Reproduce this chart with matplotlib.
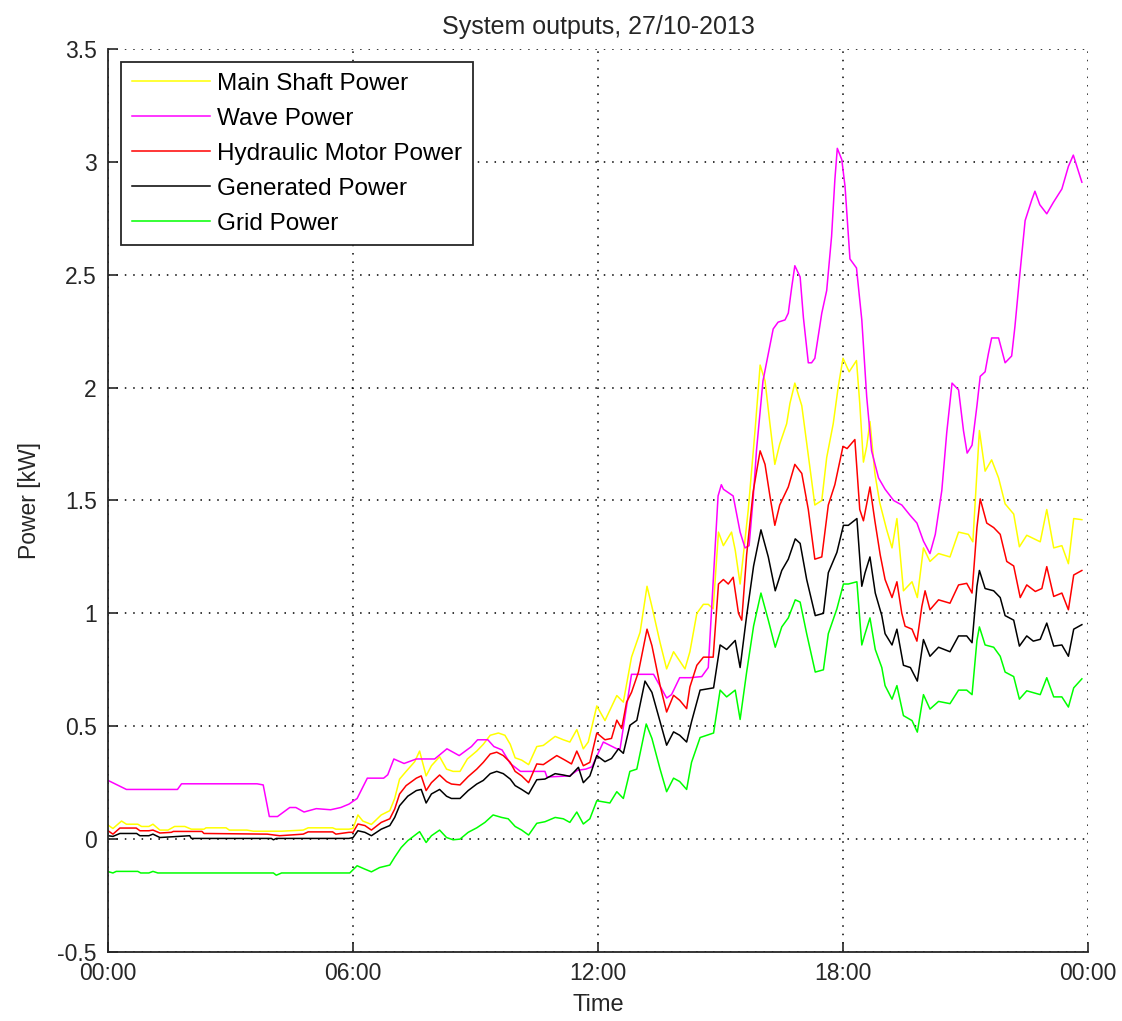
import numpy as np
import matplotlib.pyplot as plt

plt.rcParams['font.family'] = ['Liberation Sans', 'DejaVu Sans']

# time in hours, power in kW
t_shaft = [0, 0.12, 0.33, 0.45, 0.73, 0.82, 1.0, 1.1, 1.27, 1.47, 1.63, 1.88, 2.04, 2.35, 2.4, 2.89, 2.97, 3.4, 3.56, 4.25,
           4.78, 4.9, 5.5, 5.58, 5.9, 6.0, 6.12, 6.24, 6.45, 6.69, 6.9, 7.02, 7.14, 7.3, 7.51, 7.63, 7.79, 7.92, 8.12, 8.29,
           8.45, 8.62, 8.8, 9.03, 9.19, 9.36, 9.56, 9.72, 9.85, 9.97, 10.13, 10.3, 10.5, 10.66, 10.95, 11.15, 11.31, 11.48,
           11.64, 11.76, 11.97, 12.17, 12.46, 12.62, 12.82, 13.03, 13.2, 13.32, 13.52, 13.68, 13.85, 14.13, 14.25, 14.42,
           14.58, 14.7, 14.82, 14.95, 15.07, 15.27, 15.36, 15.48, 15.56, 15.68, 15.85, 15.97, 16.09, 16.21, 16.33, 16.45,
           16.62, 16.7, 16.82, 16.99, 17.15, 17.31, 17.48, 17.6, 17.76, 17.88, 18.0, 18.15, 18.33, 18.41, 18.5, 18.58,
           18.66, 18.78, 18.9, 19.07, 19.2, 19.32, 19.48, 19.69, 19.82, 19.97, 20.13, 20.34, 20.62, 20.83, 21.07, 21.18,
           21.34, 21.48, 21.64, 21.81, 21.97, 22.18, 22.32, 22.5, 22.83, 22.99, 23.16, 23.36, 23.52, 23.65, 23.85]
p_shaft = [0.062, 0.047, 0.08, 0.066, 0.066, 0.056, 0.056, 0.066, 0.04, 0.04, 0.056, 0.056, 0.044, 0.044, 0.05, 0.05, 0.04,
           0.04, 0.035, 0.035, 0.04, 0.05, 0.05, 0.044, 0.044, 0.047, 0.107, 0.08, 0.065, 0.107, 0.126, 0.18, 0.266, 0.30,
           0.343, 0.39, 0.28, 0.325, 0.365, 0.31, 0.30, 0.30, 0.355, 0.39, 0.42, 0.46, 0.47, 0.46, 0.42, 0.36, 0.35, 0.33,
           0.41, 0.415, 0.455, 0.44, 0.43, 0.485, 0.40, 0.43, 0.59, 0.525, 0.636, 0.607, 0.806, 0.916, 1.12, 1.03, 0.87,
           0.754, 0.83, 0.754, 0.83, 1.0, 1.04, 1.04, 1.02, 1.36, 1.30, 1.36, 1.28, 1.13, 1.26, 1.46, 1.82, 2.10, 2.03,
           1.84, 1.66, 1.75, 1.84, 1.93, 2.02, 1.92, 1.70, 1.48, 1.50, 1.69, 1.84, 2.0, 2.13, 2.07, 2.12, 1.93, 1.67, 1.74,
           1.85, 1.62, 1.49, 1.37, 1.29, 1.42, 1.10, 1.14, 1.07, 1.29, 1.23, 1.265, 1.25, 1.36, 1.35, 1.317, 1.81, 1.63,
           1.68, 1.60, 1.485, 1.44, 1.295, 1.346, 1.317, 1.46, 1.29, 1.30, 1.22, 1.42, 1.415]

t_wave = [0, 0.45, 1.7, 1.8, 3.65, 3.8, 3.95, 4.15, 4.45, 4.6, 4.8, 5.1, 5.45, 5.7, 5.9, 6.1, 6.35, 6.75, 6.85, 7.0, 7.25,
          7.55, 8.0, 8.3, 8.6, 8.9, 9.05, 9.3, 9.45, 9.65, 9.85, 10.1, 10.7, 10.75, 11.3, 11.5, 11.7, 11.85, 12.13, 12.46,
          12.54, 12.82, 13.36, 13.68, 13.8, 14.0, 14.25, 14.54, 14.7, 14.94, 15.02, 15.07, 15.23, 15.31, 15.48, 15.6, 15.7,
          15.8, 15.88, 16.04, 16.17, 16.29, 16.41, 16.58, 16.66, 16.74, 16.82, 16.95, 17.03, 17.15, 17.23, 17.31, 17.48,
          17.6, 17.72, 17.8, 17.86, 17.97, 18.05, 18.17, 18.33, 18.46, 18.58, 18.7, 18.87, 19.03, 19.24, 19.44, 19.64,
          19.81, 19.97, 20.13, 20.26, 20.42, 20.54, 20.67, 20.83, 20.95, 21.04, 21.16, 21.28, 21.36, 21.48, 21.56, 21.64,
          21.81, 21.97, 22.13, 22.21, 22.34, 22.46, 22.62, 22.7, 22.82, 22.99, 23.15, 23.36, 23.52, 23.64, 23.85]
p_wave = [0.26, 0.22, 0.22, 0.245, 0.245, 0.24, 0.10, 0.10, 0.14, 0.14, 0.12, 0.135, 0.13, 0.14, 0.155, 0.18, 0.27, 0.27,
          0.285, 0.355, 0.335, 0.355, 0.355, 0.40, 0.37, 0.41, 0.44, 0.44, 0.41, 0.395, 0.335, 0.30, 0.30, 0.275, 0.28,
          0.305, 0.31, 0.32, 0.43, 0.40, 0.40, 0.73, 0.73, 0.625, 0.64, 0.715, 0.715, 0.72, 0.76, 1.52, 1.57, 1.55, 1.53,
          1.52, 1.36, 1.29, 1.30, 1.51, 1.72, 2.03, 2.15, 2.26, 2.29, 2.30, 2.33, 2.44, 2.54, 2.49, 2.31, 2.11, 2.11, 2.13,
          2.33, 2.43, 2.67, 2.92, 3.06, 3.01, 2.89, 2.57, 2.53, 2.30, 1.96, 1.72, 1.60, 1.55, 1.50, 1.48, 1.435, 1.40,
          1.32, 1.265, 1.35, 1.545, 1.80, 2.02, 1.99, 1.81, 1.71, 1.745, 1.92, 2.05, 2.07, 2.15, 2.22, 2.22, 2.11, 2.14,
          2.27, 2.52, 2.74, 2.83, 2.87, 2.81, 2.77, 2.82, 2.88, 2.98, 3.03, 2.91]

t_hyd = [0, 0.12, 0.29, 0.69, 0.78, 1.0, 1.1, 1.27, 1.55, 1.6, 2.3, 2.35, 3.9, 4.2, 4.78, 4.9, 5.5, 5.58, 5.9, 6.0, 6.12,
         6.29, 6.45, 6.69, 6.9, 7.02, 7.14, 7.3, 7.55, 7.67, 7.79, 7.92, 8.12, 8.29, 8.41, 8.62, 8.82, 9.03, 9.19, 9.36,
         9.52, 9.68, 9.85, 9.97, 10.13, 10.3, 10.5, 10.66, 10.99, 11.19, 11.35, 11.48, 11.64, 11.8, 11.97, 12.17, 12.33,
         12.46, 12.58, 12.7, 12.82, 12.99, 13.2, 13.32, 13.52, 13.68, 13.85, 14.0, 14.17, 14.25, 14.42, 14.58, 14.82,
         14.95, 15.07, 15.19, 15.31, 15.44, 15.52, 15.64, 15.8, 15.97, 16.09, 16.21, 16.33, 16.45, 16.66, 16.82, 16.99,
         17.15, 17.31, 17.48, 17.64, 17.8, 18.0, 18.1, 18.29, 18.41, 18.5, 18.66, 18.78, 18.91, 19.03, 19.2, 19.32,
         19.44, 19.52, 19.69, 19.81, 19.93, 20.01, 20.13, 20.34, 20.62, 20.83, 21.03, 21.16, 21.28, 21.36, 21.52, 21.69,
         21.85, 22.01, 22.18, 22.34, 22.5, 22.71, 22.87, 22.99, 23.16, 23.36, 23.52, 23.65, 23.85]
p_hyd = [0.037, 0.022, 0.049, 0.049, 0.037, 0.037, 0.04, 0.027, 0.03, 0.034, 0.034, 0.025, 0.022, 0.015, 0.022, 0.032,
         0.032, 0.022, 0.03, 0.03, 0.067, 0.06, 0.04, 0.074, 0.09, 0.133, 0.20, 0.237, 0.27, 0.28, 0.215, 0.25, 0.284,
         0.255, 0.244, 0.24, 0.277, 0.31, 0.34, 0.377, 0.385, 0.37, 0.34, 0.30, 0.28, 0.25, 0.333, 0.33, 0.37, 0.35,
         0.333, 0.39, 0.325, 0.34, 0.47, 0.44, 0.446, 0.527, 0.49, 0.607, 0.65, 0.74, 0.93, 0.857, 0.68, 0.563, 0.637,
         0.615, 0.578, 0.674, 0.77, 0.806, 0.806, 1.13, 1.15, 1.13, 1.16, 1.00, 0.97, 1.26, 1.54, 1.72, 1.66, 1.52, 1.39,
         1.48, 1.56, 1.66, 1.62, 1.46, 1.24, 1.25, 1.48, 1.57, 1.74, 1.73, 1.77, 1.46, 1.41, 1.56, 1.41, 1.26, 1.15, 1.07,
         1.14, 1.0, 0.943, 0.93, 0.877, 1.03, 1.10, 1.016, 1.06, 1.045, 1.126, 1.133, 1.09, 1.38, 1.507, 1.40, 1.38, 1.35,
         1.23, 1.21, 1.07, 1.126, 1.097, 1.11, 1.207, 1.075, 1.09, 1.016, 1.17, 1.19]

t_gen = [0, 0.12, 0.29, 0.7, 0.78, 1.0, 1.1, 1.27, 2.0, 2.04, 4.0, 4.05, 4.12, 5.9, 6.0, 6.12, 6.29, 6.45, 6.69, 6.9, 7.02,
         7.14, 7.34, 7.55, 7.67, 7.79, 7.92, 8.12, 8.29, 8.41, 8.62, 8.82, 9.03, 9.19, 9.36, 9.52, 9.68, 9.85, 9.97, 10.13,
         10.3, 10.5, 10.7, 10.95, 11.15, 11.31, 11.52, 11.64, 11.8, 11.97, 12.17, 12.33, 12.5, 12.62, 12.78, 12.95, 13.15,
         13.32, 13.52, 13.68, 13.85, 14.0, 14.17, 14.29, 14.5, 14.83, 14.99, 15.15, 15.36, 15.48, 15.64, 15.81, 15.99,
         16.17, 16.34, 16.5, 16.66, 16.83, 16.95, 17.11, 17.32, 17.52, 17.64, 17.85, 18.01, 18.13, 18.34, 18.46, 18.54,
         18.66, 18.79, 18.95, 19.03, 19.2, 19.32, 19.48, 19.65, 19.82, 19.97, 20.13, 20.34, 20.62, 20.83, 21.03, 21.16,
         21.28, 21.34, 21.48, 21.69, 21.85, 21.97, 22.18, 22.32, 22.5, 22.66, 22.83, 22.99, 23.16, 23.36, 23.52, 23.65,
         23.85]
p_gen = [0.015, 0.012, 0.025, 0.025, 0.015, 0.015, 0.022, 0.007, 0.015, 0.003, 0.003, -0.003, 0.003, 0.003, 0.007, 0.037,
         0.03, 0.015, 0.044, 0.06, 0.096, 0.148, 0.19, 0.215, 0.22, 0.16, 0.20, 0.22, 0.19, 0.18, 0.18, 0.215, 0.244,
         0.26, 0.29, 0.30, 0.29, 0.266, 0.237, 0.22, 0.20, 0.263, 0.266, 0.29, 0.284, 0.278, 0.318, 0.25, 0.28, 0.37,
         0.343, 0.357, 0.40, 0.38, 0.504, 0.526, 0.70, 0.65, 0.52, 0.416, 0.475, 0.46, 0.43, 0.52, 0.66, 0.67, 0.86, 0.84,
         0.88, 0.76, 0.99, 1.21, 1.37, 1.25, 1.10, 1.19, 1.24, 1.33, 1.31, 1.15, 0.99, 1.0, 1.18, 1.27, 1.39, 1.39, 1.42,
         1.12, 1.18, 1.25, 1.09, 0.99, 0.91, 0.86, 0.93, 0.77, 0.76, 0.70, 0.884, 0.81, 0.85, 0.83, 0.90, 0.90, 0.87,
         1.12, 1.19, 1.11, 1.10, 1.07, 0.99, 0.97, 0.855, 0.90, 0.877, 0.885, 0.957, 0.855, 0.86, 0.81, 0.93, 0.95]

t_grid = [0, 0.12, 0.2, 0.73, 0.8, 1.0, 1.1, 1.22, 4.05, 4.12, 4.25, 5.92, 6.1, 6.29, 6.45, 6.65, 6.9, 7.02, 7.18, 7.34,
          7.63, 7.79, 7.92, 8.12, 8.29, 8.45, 8.62, 8.82, 9.03, 9.23, 9.43, 9.64, 9.8, 9.97, 10.13, 10.3, 10.5, 10.7,
          10.95, 11.15, 11.31, 11.48, 11.64, 11.8, 11.97, 12.29, 12.46, 12.62, 12.78, 12.95, 13.18, 13.32, 13.52, 13.68,
          13.85, 14.0, 14.17, 14.29, 14.5, 14.83, 14.99, 15.15, 15.36, 15.48, 15.64, 15.81, 15.99, 16.17, 16.34, 16.5,
          16.66, 16.83, 16.95, 17.11, 17.32, 17.52, 17.64, 17.85, 18.01, 18.13, 18.34, 18.46, 18.54, 18.66, 18.79, 18.95,
          19.03, 19.2, 19.32, 19.48, 19.69, 19.82, 19.97, 20.13, 20.34, 20.62, 20.83, 21.03, 21.16, 21.28, 21.34, 21.48,
          21.69, 21.85, 21.97, 22.18, 22.32, 22.5, 22.83, 22.99, 23.16, 23.36, 23.52, 23.65, 23.85]
p_grid = [-0.144, -0.15, -0.143, -0.143, -0.15, -0.15, -0.143, -0.15, -0.15, -0.16, -0.15, -0.15, -0.118, -0.133, -0.145,
          -0.126, -0.115, -0.08, -0.037, -0.007, 0.033, -0.015, 0.015, 0.04, 0.007, -0.003, 0.0, 0.03, 0.05, 0.074, 0.107,
          0.096, 0.09, 0.056, 0.04, 0.018, 0.07, 0.077, 0.096, 0.09, 0.074, 0.12, 0.067, 0.09, 0.17, 0.16, 0.21, 0.18,
          0.30, 0.31, 0.51, 0.446, 0.31, 0.21, 0.27, 0.255, 0.22, 0.34, 0.45, 0.47, 0.66, 0.63, 0.66, 0.53, 0.74, 0.944,
          1.09, 0.97, 0.85, 0.94, 0.98, 1.06, 1.05, 0.91, 0.74, 0.75, 0.91, 1.02, 1.13, 1.13, 1.14, 0.86, 0.91, 0.98, 0.84,
          0.76, 0.68, 0.62, 0.68, 0.547, 0.525, 0.474, 0.64, 0.576, 0.61, 0.60, 0.66, 0.66, 0.64, 0.88, 0.94, 0.86, 0.85,
          0.81, 0.74, 0.72, 0.62, 0.657, 0.64, 0.715, 0.63, 0.63, 0.585, 0.67, 0.71]

x_ticks = [0, 6, 12, 18, 24]
x_labels = ['00:00', '06:00', '12:00', '18:00', '00:00']
y_ticks = [-0.5, 0, 0.5, 1, 1.5, 2, 2.5, 3, 3.5]
y_labels = ['-0.5', '0', '0.5', '1', '1.5', '2', '2.5', '3', '3.5']

fig = plt.figure(figsize=(11.22, 10.21), dpi=100)
ax = fig.add_axes([0.0963, 0.0676, 0.8734, 0.8844])

ax.plot(t_shaft, p_shaft, color='#ffff00', lw=1.1, label='Main Shaft Power')
ax.plot(t_wave, p_wave, color='#ff00ff', lw=1.1, label='Wave Power')
ax.plot(t_hyd, p_hyd, color='#ff0000', lw=1.1, label='Hydraulic Motor Power')
ax.plot(t_gen, p_gen, color='#000000', lw=1.1, label='Generated Power')
ax.plot(t_grid, p_grid, color='#00ff00', lw=1.1, label='Grid Power')

ax.set_xlim(0, 24)
ax.set_ylim(-0.5, 3.5)
ax.set_xticks(x_ticks)
ax.set_xticklabels(x_labels)
ax.set_yticks(y_ticks)
ax.set_yticklabels(y_labels)
ax.tick_params(direction='in', length=7, width=1.2, labelsize=16.5, colors='#262626')
ax.tick_params(axis='y', pad=8)
ax.tick_params(axis='x', pad=7)

# matlab style: dotted grid, only left/bottom axes solid
ax.grid(True, color='black', linestyle=(0, (1, 4.5)), linewidth=1.1)
ax.spines['top'].set_visible(False)
ax.spines['right'].set_visible(False)
for s in ['left', 'bottom']:
    ax.spines[s].set_linewidth(1.3)
    ax.spines[s].set_color('#262626')

ax.set_title('System outputs, 27/10-2013', fontsize=18, color='#262626', pad=11)
ax.set_xlabel('Time', fontsize=17, color='#262626', labelpad=7)
ax.set_ylabel('Power [kW]', fontsize=16.5, color='#262626', labelpad=12)

leg = ax.legend(loc='upper left', bbox_to_anchor=(0.0133, 0.9856), borderaxespad=0, fontsize=17.5,
                fancybox=False, framealpha=1, edgecolor='#262626', handlelength=3.2, handletextpad=0.3,
                labelspacing=0.53, borderpad=0.45)
leg.get_frame().set_linewidth(1.3)

fig.savefig('out.png', dpi=100, facecolor='white')
